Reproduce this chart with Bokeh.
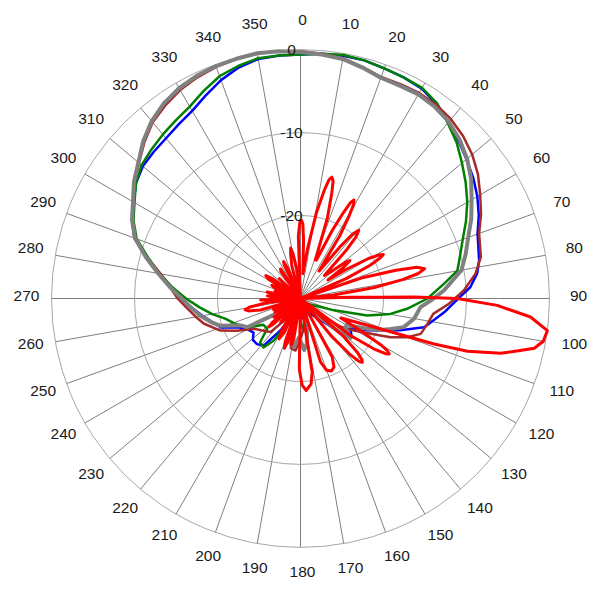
import math
from bokeh.plotting import figure
from bokeh.models import Range1d
from bokeh.core.properties import value
from bokeh.embed import file_html
from bokeh.resources import INLINE

# ---------------- data (angle in degrees clockwise from top, level in dB) -------------
ring_levels = [0, -10, -20]
ring_labels = ["0", "-10", "-20"]
angle_ticks = list(range(0, 360, 10))
angle_labels = [str(a) for a in angle_ticks]

blue_deg = [0, 5, 10, 15, 20, 25, 30, 35, 40, 45, 50, 55, 60, 65, 70, 74, 78, 81.9, 86.2, 90, 95.5,
            103.1, 107.7, 111.8, 115.4, 121.2, 126, 130, 140, 155, 165, 175, 185, 200, 205, 212,
            218, 223.7, 229, 234, 240, 245, 250, 255, 260, 265, 270, 275, 280, 285, 290, 295,
            300, 305, 310, 315, 320, 325, 330, 335, 340, 345, 350, 355, 360]
blue_db = [-0.6, -0.4, -0.3, -0.3, -0.5, -0.6, -0.8, -1.4, -2.3, -3.1, -3.9, -4.6, -5.4, -6.3,
           -7.3, -7.7, -8.0, -8.5, -9.5, -11.0, -12.6, -14.7, -17.4, -19.6, -21.1, -23.0, -22.4,
           -23.5, -27.0, -28.3, -27.5, -27.6, -28.5, -28.5, -28.0, -25.5, -22.8, -22.4, -22.4,
           -23.0, -22.6, -21.8, -19.8, -19.0, -18.0, -16.9, -15.6, -14.3, -12.8, -10.8, -8.7,
           -7.6, -6.8, -5.8, -5.2, -5.0, -4.8, -4.4, -3.9, -3.0, -2.0, -1.2, -0.7, -0.6, -0.6]

green_deg = [0, 5, 10, 15, 20, 25, 30, 35, 40, 45, 50, 55, 60, 65, 70, 75, 79.9, 84.1, 90, 95.5,
             99.7, 104.3, 109.4, 117, 130, 150, 165, 175, 185, 200, 207, 212.4, 217, 222.6, 228,
             235, 241, 245, 250, 255, 260, 265, 270, 275, 280, 285, 290, 295, 300, 305, 310, 315,
             320, 325, 330, 335, 340, 345, 350, 355, 360]
green_db = [-0.6, -0.4, -0.2, -0.3, -0.5, -0.6, -0.7, -1.3, -2.4, -3.4, -4.6, -5.7, -6.8, -8.0,
            -9.2, -10.1, -10.8, -12.6, -14.7, -17.1, -19.0, -21.7, -25.7, -28.2, -29.0, -28.5,
            -27.0, -26.0, -28.0, -28.0, -27.0, -24.0, -22.6, -22.8, -24.6, -24.5, -22.8, -22.2,
            -21.4, -20.6, -19.2, -17.8, -16.2, -14.5, -12.8, -11.0, -9.0, -7.8, -6.9, -5.8,
            -5.0, -4.6, -4.2, -3.8, -3.3, -2.4, -1.5, -1.0, -0.6, -0.6, -0.6]

brown_deg = [0, 5, 10, 15, 20, 25, 30, 35, 40, 45, 50, 55, 60, 65, 70, 77, 81.9, 87.2, 92, 96.6,
             101.3, 106.4, 109.9, 113.3, 114.8, 121, 125, 130, 145, 160, 170, 180, 185.5, 191,
             195, 205, 215, 221.7, 230, 237, 243.2, 248.2, 255.3, 260, 265, 270, 275, 280, 285,
             290, 295, 300, 305, 310, 315, 320, 325, 330, 335, 340, 345, 350, 355, 360]
brown_db = [-0.2, -0.4, -0.6, -1.1, -1.6, -1.5, -1.4, -1.5, -1.8, -2.3, -3.0, -3.9, -5.0, -6.0,
            -7.1, -7.7, -8.7, -10.3, -12.1, -13.9, -14.4, -14.9, -16.3, -18.2, -19.4, -22.5,
            -24.0, -27.0, -29.0, -28.5, -27.0, -25.0, -23.7, -23.9, -26.0, -27.5, -27.0, -24.6,
            -24.0, -23.3, -21.4, -19.6, -18.0, -17.2, -16.3, -15.2, -14.2, -12.9, -10.8, -8.7,
            -7.6, -6.7, -5.6, -4.6, -3.4, -2.3, -1.6, -1.0, -0.6, -0.3, -0.1, 0.0, -0.1, -0.2]

gray_deg = [0, 5, 10, 15, 20, 25, 30, 35, 40, 45, 50, 55, 60, 65, 70, 75, 80, 86.8, 90.9, 94.1,
            100.1, 105.5, 108.6, 111.4, 114.4, 120, 124, 128, 131, 138, 155, 165, 172, 176, 182,
            188, 193, 200, 215, 234.9, 241.7, 245.8, 251.3, 255, 260, 265, 270, 275, 280, 285,
            290, 295, 300, 305, 310, 315, 320, 325, 330, 335, 340, 345, 350, 355, 360]
gray_db = [-0.3, -0.5, -0.7, -1.2, -1.7, -1.7, -1.6, -1.8, -2.2, -2.9, -3.8, -4.9, -6.2, -7.3,
           -8.5, -9.4, -10.3, -12.7, -14.3, -15.5, -16.1, -17.1, -18.5, -19.6, -21.2, -23.6,
           -23.5, -22.3, -24.0, -28.0, -29.0, -27.0, -24.5, -23.8, -25.3, -24.1, -24.5, -27.0,
           -28.5, -27.5, -22.7, -22.1, -19.8, -18.9, -17.8, -16.8, -15.7, -14.2, -12.6, -10.7,
           -8.8, -7.6, -6.7, -5.5, -4.5, -3.2, -2.1, -1.3, -0.75, -0.4, -0.2, -0.1, 0.0, -0.1,
           -0.3]

red_deg = [0.5, 1.8, 3, 5.5,
           8, 10.5, 12.5, 13.5, 14.5, 15.5, 16.5, 18.5, 21,
           22.5, 25, 26.5, 27.5, 28.5, 29.5, 30.5, 32, 34,
           35.5, 37.5, 39, 40.5, 42, 43.5, 46,
           49, 51, 52.5, 54, 56,
           57.5, 59.5, 61, 62, 63, 64.5, 66.5, 68.5,
           71.5, 73.5, 75, 76.5, 78, 79.5, 81.5, 84, 86,
           88.5, 89.1, 89.3, 90, 92, 94.6, 97.4, 100, 102, 103.5, 105.3, 107.5, 108.8, 109.8,
           111.8, 115.8,
           118, 120, 121, 122, 123, 124.5, 126.5, 129,
           131.5, 133.5, 135, 136, 137, 138.5, 140.5, 143,
           148, 151.5, 154, 157, 160, 162.5, 165.5,
           168, 171, 173, 176.5, 179, 181, 184,
           187, 189.5, 191, 192.5, 194.5, 196.5, 198, 199.5, 202,
           205.5, 208, 210.5, 214, 217, 220, 223, 226.5, 228, 229.5, 232, 235, 238,
           242, 245, 248, 251, 254, 256.5, 258.5, 260.5, 263, 266, 268, 270.5, 273, 274.5, 276,
           279, 281, 283, 287, 290, 293, 295, 297, 301, 303.5, 305.5, 309, 313, 316, 320,
           324, 326, 328, 331, 334, 335.5, 337, 341, 345, 347.5, 349, 350.5, 353, 356.5,
           358, 359.5, 360.5]
red_db = [-20.5, -21.0, -23.0, -27.0,
          -24.0, -19.5, -16.5, -15.3, -14.9, -15.3, -16.7, -19.8, -25.0,
          -25.0, -21.0, -18.5, -17.0, -16.5, -17.0, -18.5, -21.0, -26.0,
          -25.0, -22.0, -20.0, -19.2, -20.0, -22.0, -26.0,
          -25.0, -23.0, -22.5, -23.5, -26.0,
          -23.5, -20.5, -19.2, -18.7, -19.2, -20.7, -24.0, -30.0,
          -22.0, -18.0, -15.5, -14.6, -15.5, -17.5, -21.0, -26.0, -30.0,
          -24.0, -20.4, -16.3, -11.1, -6.3, -2.2, 0.0, -0.3, -1.2, -3.0, -5.0, -8.9, -13.0, -17.0,
          -21.3, -24.6,
          -22.0, -18.8, -17.8, -17.4, -17.8, -19.3, -22.5, -30.0,
          -23.0, -20.5, -19.5, -19.3, -19.6, -21.0, -24.0, -30.0,
          -30.0, -22.0, -20.8, -20.5, -20.8, -22.0, -30.0,
          -30.0, -21.0, -19.6, -18.9, -19.6, -21.5, -30.0,
          -30.0, -25.0, -24.3, -25.0, -30.0, -24.5, -23.7, -24.5, -30.0,
          -25.5, -24.5, -25.5, -30.0, -26.5, -26.3, -30.0, -25.5, -24.9, -25.5, -30.0, -26.1, -30.0,
          -26.5, -30.0, -26.5, -30.0, -25.0, -23.6, -23.2, -23.8, -26.0, -30.0, -25.2, -30.0,
          -26.5, -26.0, -30.0,
          -26.5, -25.9, -30.0, -26.8, -30.0, -26.5, -26.2, -30.0, -25.5, -25.0, -26.0, -30.0,
          -26.5, -30.0, -30.0,
          -26.0, -25.7, -30.0, -30.0, -25.5, -25.1, -26.0, -30.0, -26.0, -24.5, -23.8, -24.5,
          -26.5, -30.0,
          -22.5, -20.8, -20.5]

# ---------------- geometry ----------------
DB_MIN, DB_MAX = -30.0, 0.0
R = 249.0            # pixel radius of the 0 dB ring
LABEL_R = 276.0


def rad(db):
    return max(0.0, (db - DB_MIN) / (DB_MAX - DB_MIN) * R)


def to_xy(degs, dbs):
    xs, ys = [], []
    for a, d in zip(degs, dbs):
        r = rad(d)
        t = math.radians(a)
        xs.append(r * math.sin(t))
        ys.append(r * math.cos(t))
    return xs, ys


p = figure(width=600, height=600, x_range=Range1d(-300, 300), y_range=Range1d(-302, 298),
           output_backend="svg", toolbar_location=None, min_border=0,
           x_axis_location=None, y_axis_location=None)
p.grid.visible = False
p.outline_line_color = None
p.background_fill_color = "white"
p.border_fill_color = "white"

# spokes
sx1 = [R * math.sin(math.radians(a)) for a in angle_ticks]
sy1 = [R * math.cos(math.radians(a)) for a in angle_ticks]
p.segment(x0=[0] * len(sx1), y0=[0] * len(sy1), x1=sx1, y1=sy1,
          line_color="#7f7f7f", line_width=1)

# rings
p.circle(x=[0] * len(ring_levels), y=[0] * len(ring_levels),
         radius=[rad(l) for l in ring_levels], fill_color=None,
         line_color="#a6a6a6", line_width=1)

# curves
for degs, dbs, col, lw in [(blue_deg, blue_db, "#0000ff", 2.5),
                           (green_deg, green_db, "#008000", 2.5),
                           (brown_deg, brown_db, "#a52a2a", 2.5),
                           (gray_deg, gray_db, "#808080", 4),
                           (red_deg, red_db, "#ff0000", 3)]:
    xs, ys = to_xy(degs, dbs)
    p.line(xs, ys, line_color=col, line_width=lw, line_join="round")

# ring labels
p.text(x=[-9] * len(ring_levels), y=[rad(l) for l in ring_levels], text=ring_labels,
       text_align="center", text_baseline="middle", text_font=value("Liberation Sans"),
       text_font_size="15.5px", text_color="#1a1a1a")

# angle labels
ax = [LABEL_R * math.sin(math.radians(a)) + 2 for a in angle_ticks]
ay = [LABEL_R * math.cos(math.radians(a)) + 2.3 for a in angle_ticks]
p.text(x=ax, y=ay, text=angle_labels, text_align="center", text_baseline="middle",
       text_font=value("Liberation Sans"), text_font_size="15.5px", text_color="#1a1a1a")

open("out.html", "w").write(file_html(p, INLINE))
